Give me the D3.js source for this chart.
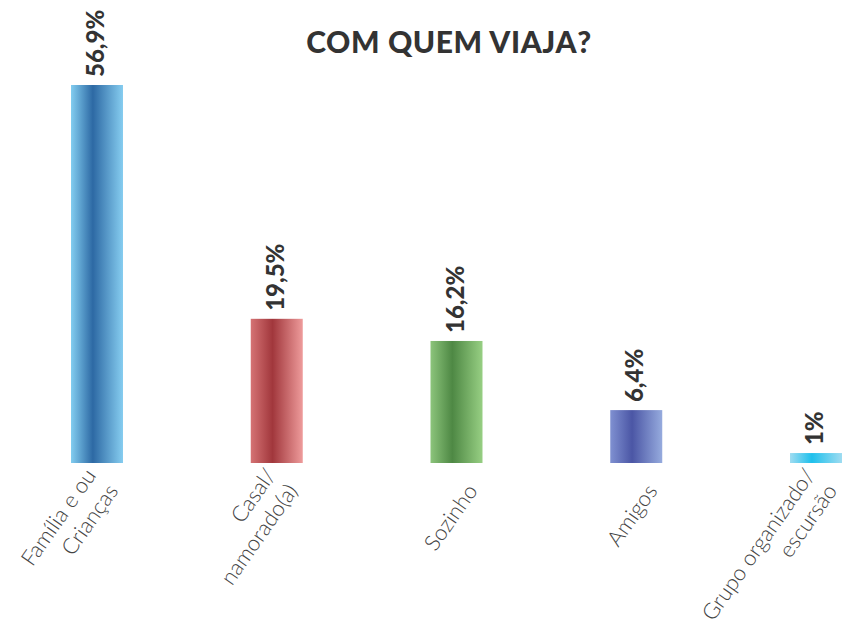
<!DOCTYPE html>
<html>
<head>
<meta charset="utf-8">
<script src="https://cdn.jsdelivr.net/npm/d3@7"></script>
<style>
  html, body { margin: 0; padding: 0; background: #fff; }
  svg { display: block; }
</style>
</head>
<body>
<div id="chart-container"></div>
<script>
// answers, in percent
const categories = [
    ["Família e ou", "Crianças"],
    ["Casal/", "namorado(a)"],
    ["Sozinho"],
    ["Amigos"],
    ["Grupo organizado/", "escursão"]
];
const values = [56.9, 19.5, 16.2, 6.4, 1];
const valueLabels = ["56,9%", "19,5%", "16,2%", "6,4%", "1%"];
// gradient stops per bar: edge, dark middle, edge
const barColors = [
    ["#82cdf0", "#2d69a4", "#86cdf0"],
    ["#d57374", "#a1373c", "#ee9b9b"],
    ["#8cc47b", "#4e8844", "#97cf83"],
    ["#7f90d1", "#4b56a5", "#96abde"],
    ["#9fdcf1", "#1ec0ec", "#9fdcf1"]
];

const width = 846, height = 628;
const baseY = 463;

const svg = d3.select("#chart-container")
    .append("svg")
    .attr("width", width)
    .attr("height", height)
    .style("font-family", "Lato, 'Open Sans', sans-serif");

const ids = categories.map((c, i) => "cat" + i);

const x = d3.scalePoint()
    .domain(ids)
    .range([97, 816]);

// the source drawing is not strictly linear, a soft power scale follows it better
const y = d3.scalePow()
    .exponent(0.9)
    .domain([0, d3.max(values)])
    .range([baseY, 85]);

const barW = 52;

const defs = svg.append("defs");
barColors.forEach((c, i) => {
    const g = defs.append("linearGradient")
        .attr("id", "grad" + i)
        .attr("x1", "0%").attr("x2", "100%")
        .attr("y1", "0%").attr("y2", "0%");
    g.append("stop").attr("offset", "0%").attr("stop-color", c[0]);
    g.append("stop").attr("offset", "42%").attr("stop-color", c[1]);
    g.append("stop").attr("offset", "100%").attr("stop-color", c[2]);
});

// title
svg.append("text")
    .attr("x", 449)
    .attr("y", 53)
    .attr("text-anchor", "middle")
    .attr("font-size", 30)
    .attr("font-weight", 900)
    .attr("letter-spacing", 0.6)
    .attr("fill", "#333")
    .text("COM QUEM VIAJA?");

// bars
svg.selectAll(".bar")
    .data(values)
    .enter().append("rect")
    .attr("class", "bar")
    .attr("x", (d, i) => x(ids[i]) - barW / 2)
    .attr("y", d => y(d))
    .attr("width", barW)
    .attr("height", d => baseY - y(d))
    .attr("fill", (d, i) => `url(#grad${i})`);

// value labels, vertical
svg.selectAll(".val")
    .data(values)
    .enter().append("text")
    .attr("class", "val")
    .attr("transform", (d, i) => `translate(${x(ids[i])},${y(d) - 8}) rotate(-90)`)
    .attr("dy", "0.3em")
    .attr("font-size", 24)
    .attr("font-weight", 900)
    .attr("fill", "#333")
    .text((d, i) => valueLabels[i]);

// category labels, slanted
const lineH = 27;
const cat = svg.selectAll(".cat")
    .data(categories)
    .enter().append("text")
    .attr("class", "cat")
    .attr("transform", (d, i) => `translate(${x(ids[i]) + 22},${491}) rotate(-55)`)
    .attr("text-anchor", "end")
    .attr("font-size", 22)
    .attr("font-weight", 300)
    .attr("fill", "#444");

cat.selectAll("tspan")
    .data(d => d.map((t, j) => ({ t, off: (j - (d.length - 1)) * lineH })))
    .enter().append("tspan")
    .attr("x", 0)
    .attr("y", d => d.off)
    .text(d => d.t);
</script>
</body>
</html>
